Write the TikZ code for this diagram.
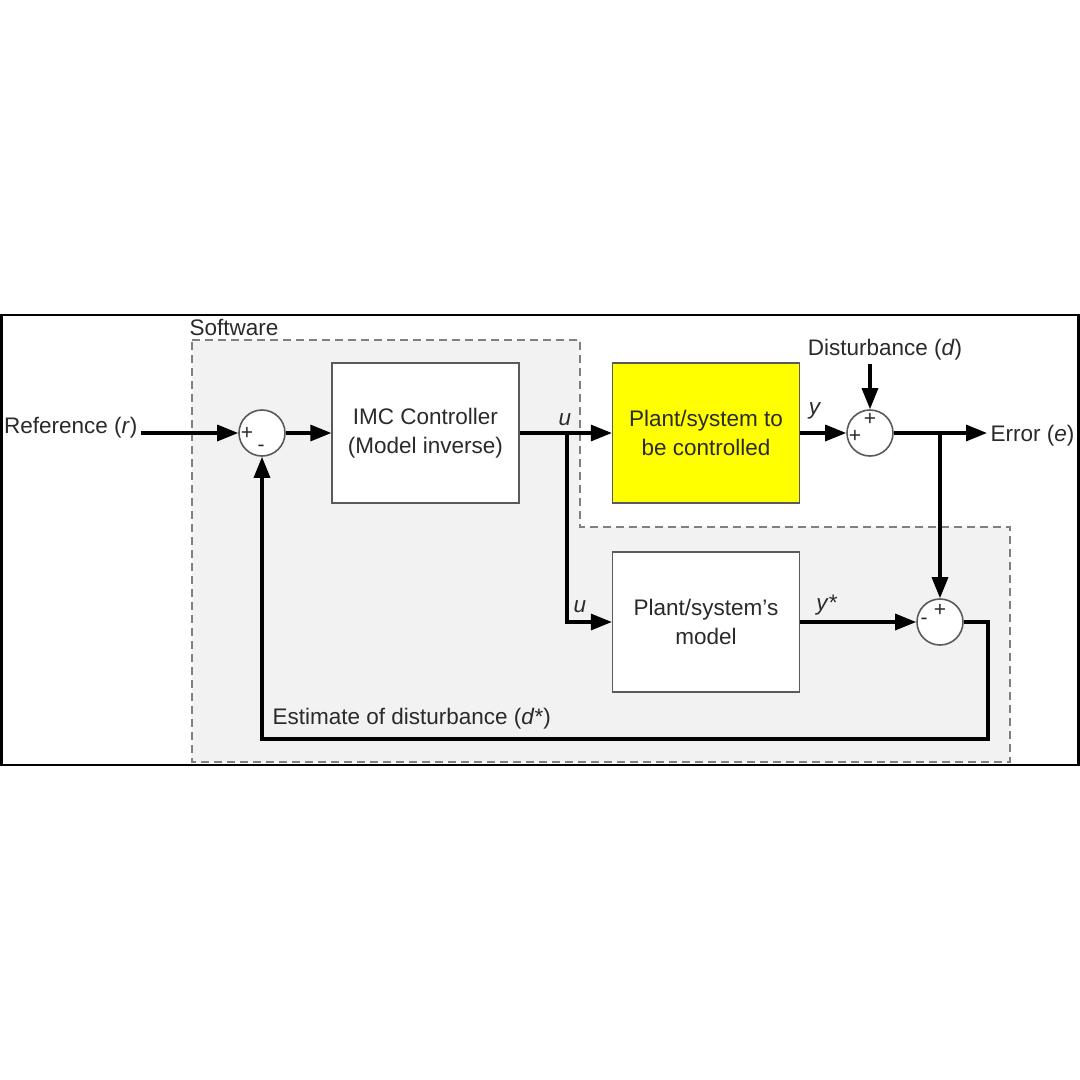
\documentclass[tikz,border=0pt]{standalone}
\usepackage{fontspec}
\setmainfont{Liberation Sans}
\usetikzlibrary{arrows.meta}
\definecolor{txt}{HTML}{2A2A2A}
\definecolor{boxc}{HTML}{5A5A5A}
\definecolor{plantyellow}{HTML}{FFFF00}
\definecolor{softfill}{HTML}{F2F2F2}
\definecolor{dashc}{HTML}{808080}
\begin{document}
\begin{tikzpicture}[x=1pt,y=-1pt,
  every node/.style={font=\fontsize{22.5}{29}\selectfont, text=txt},
  blockbox/.style={draw=boxc, line width=1.3pt, minimum width=187pt, minimum height=140pt, align=center, inner sep=0pt},
  sumnode/.style={circle, draw=boxc, fill=white, line width=1.6pt, minimum size=46pt, inner sep=0pt},
  sig/.style={line width=3.2pt, draw=black},
  arr/.style={sig, -{Triangle[length=21pt,width=16pt]}},
  signlbl/.style={font=\fontsize{21}{21}\selectfont, inner sep=0pt},
  softregion/.style={draw=dashc, fill=softfill, line width=1.5pt, dash pattern=on 8pt off 5pt}
]
\fill[white] (0,0) rectangle (1080,1080);
\useasboundingbox (0,0) rectangle (1080,1080);
% outer frame
\draw[line width=2.5pt] (1.5,315) rectangle (1078.5,765);
% software region
\draw[softregion] (192,340) -- (580,340) -- (580,527) -- (1010,527) -- (1010,762) -- (192,762) -- cycle;
\node[anchor=west] (soft) at (186,327) {Software};

% blocks
\node[sumnode] (s1) at (262,433) {};
\node[blockbox, fill=white] (imc) at (425.5,433) {IMC Controller\\(Model inverse)};
\node[blockbox, fill=plantyellow] (plant) at (706,433) {Plant/system to\\be controlled};
\node[sumnode] (s2) at (870,433) {};
\node[blockbox, fill=white] (model) at (706,622) {Plant/system's\\model};
\node[sumnode] (s3) at (940,622) {};

% signs
\node[signlbl] (s1p) at (247,433) {+};
\node[signlbl] (s1m) at (261,448) {-};
\node[signlbl] (s2t) at (870,419) {+};
\node[signlbl] (s2l) at (855,436) {+};
\node[signlbl] (s3t) at (940,610) {+};
\node[signlbl] (s3l) at (924,621) {-};

% labels
\node[anchor=east] (ref) at (141,428) {Reference (\textit{r})};
\node (dist) at (885,350) {Disturbance (\textit{d})};
\node[anchor=west] (err) at (987,436) {Error (\textit{e})};
\node (u1) at (565,420) {\textit{u}};
\node (yl) at (815,411) {\textit{y}};
\node (u2) at (580,607) {\textit{u}};
\node (ys) at (827,605) {\textit{y}*};
\node[anchor=west] (est) at (269,719) {Estimate of disturbance (\textit{d}*)};

% coordinates
\coordinate (bu) at (567,433);
\coordinate (be) at (940,433);
\coordinate (fbR) at (988,739);
\coordinate (fbL) at (262,739);

% connectors
\draw[arr] (ref.east |- s1) -- (s1.west);
\draw[arr] (s1.east) -- (imc.west);
\draw[arr] (imc.east) -- (plant.west);
\draw[arr] (plant.east) -- (s2.west);
\draw[arr] (dist.south -| s2) -- (s2.north);
\draw[arr] (s2.east) -- (err.west |- s2);
\draw[arr] (be) -- (s3.north);
\draw[arr] (bu) |- (model.west);
\draw[arr] (model.east) -- (s3.west);
\draw[arr] (s3.east) -| (fbR) -- (fbL) -- (s1.south);
\end{tikzpicture}
\end{document}
